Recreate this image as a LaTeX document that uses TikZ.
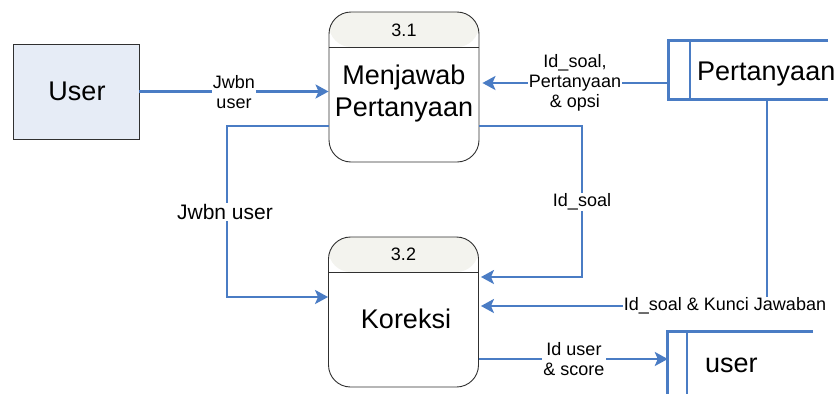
\documentclass[tikz,border=0pt]{standalone}
\usepackage{fontspec}
\setmainfont{Liberation Sans}
\usetikzlibrary{arrows.meta,calc}
\definecolor{flowblue}{HTML}{4A7CC4}
\definecolor{procline}{HTML}{303030}
\definecolor{headfill}{HTML}{F3F3EE}
\definecolor{extfill}{HTML}{E6ECF6}
\tikzset{
  flow/.style={draw=flowblue, line width=2.7pt, -{Stealth[length=13pt,width=14pt,inset=3pt]}},
  storeline/.style={draw=flowblue, line width=2.7pt},
  bigtext/.style={font=\fontsize{27}{32}\selectfont, inner sep=0pt},
  smalltext/.style={font=\fontsize{18}{20}\selectfont, align=center},
  flowlabel/.style={smalltext, fill=white, inner sep=1pt},
  proc/.style={draw=procline, line width=0.9pt, rounded corners=22pt,
    minimum width=150pt, minimum height=150pt, inner sep=0pt,
    path picture={
      \fill[headfill] (path picture bounding box.north west) rectangle
        ([yshift=-35pt]path picture bounding box.north east);
      \draw[procline, line width=0.9pt]
        ([yshift=-35pt]path picture bounding box.north west) --
        ([yshift=-35pt]path picture bounding box.north east);
    }},
  extent/.style={draw=procline, line width=0.8pt, fill=extfill,
    minimum width=126pt, minimum height=95pt, inner sep=0pt},
  storebox/.style={inner sep=0pt}
}
\begin{document}
\begin{tikzpicture}[x=1pt,y=-1pt]
\useasboundingbox (0,0) rectangle (839,394);

% external entity
\node[extent] (user) at (76,91.5) {};
\node[bigtext, anchor=base] (usertxt) at (77,100) {User};

% processes
\node[proc] (p31) at (404,87) {};
\node[smalltext] (p31id) at (404,30) {3.1};
\node[bigtext, align=center] (p31txt) at (404,94) {Menjawab\\Pertanyaan};

\node[proc] (p32) at (403.5,312) {};
\node[smalltext] (p32id) at (403.5,254) {3.2};
\node[bigtext, anchor=base] (p32txt) at (406,328) {Koreksi};

% data stores (open on the right)
\node[storebox, minimum width=159pt, minimum height=58pt] (sp) at (748.5,70) {};
\draw[storeline] (sp.north east) -- (sp.north west) -- (sp.south west) -- (sp.south east);
\draw[storeline] (sp.north west -| 690,0) -- (sp.south west -| 690,0);
\node[bigtext, anchor=base west] (sptxt) at (697,80) {Pertanyaan};

\node[storebox, minimum width=145pt, minimum height=70pt] (su) at (740.5,367) {};
\draw[storeline] (su.north east) -- (su.north west) -- (su.south west);
\draw[storeline] (su.north west -| 687,0) -- (su.south west -| 687,0);
\node[bigtext, anchor=base west] (sutxt) at (705,372) {user};

% data flows
\draw[flow] (user.east) -- (user.east -| p31.west);
\draw[flow] (sp.west |- 0,83) -- ([xshift=3pt]p31.east |- 0,83);
\draw[flow] (p31.east |- 0,126) -| (582,277) -- ([xshift=2pt]p32.east |- 0,277);
\draw[flow] (sp.south -| 767,0) |- ([xshift=2pt]p32.east |- 0,306);
\draw[flow] (p31.west |- 0,126) -| (227,297) -- (p32.west |- 0,297);
\draw[flow] (p32.east |- 0,359) -- (su.west |- 0,359);

% flow labels
\node[flowlabel] (l1) at (234,92) {Jwbn\\user};
\node[flowlabel] (l2) at (575,83) {Id\_soal,\\Pertanyaan\\\& opsi};
\node[flowlabel] (l3) at (582,202) {Id\_soal};
\node[flowlabel, font=\fontsize{21}{24}\selectfont] (l4) at (225,212) {Jwbn user};
\node[flowlabel] (l5) at (725,306) {Id\_soal \& Kunci Jawaban};
\node[flowlabel] (l6) at (574,359) {Id user\\\& score};
\end{tikzpicture}
\end{document}
